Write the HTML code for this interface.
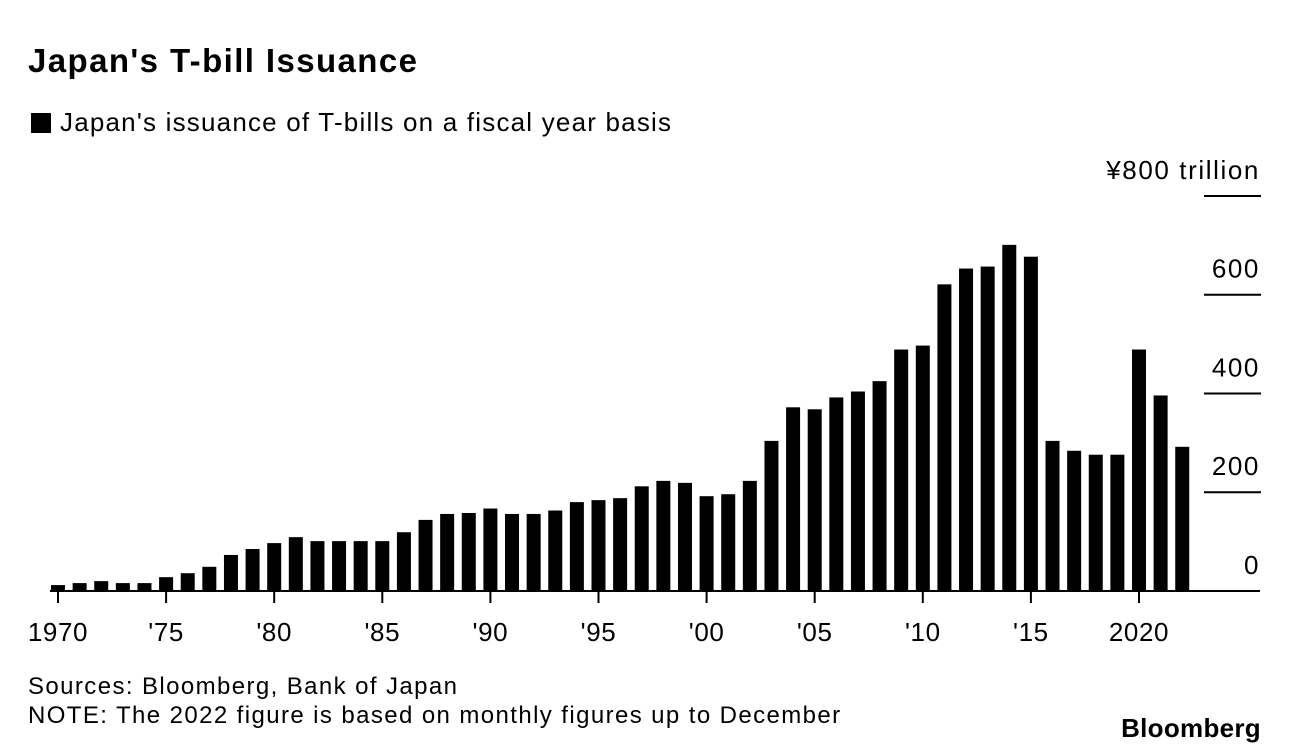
<!DOCTYPE html>
<html><head><meta charset="utf-8"><style>
body{margin:0;background:#fff;font-family:"Liberation Sans",sans-serif;color:#000}
#wrap{position:relative;width:1289px;height:756px;overflow:hidden}
.t{position:absolute;white-space:nowrap}
</style></head><body>
<div id="wrap">
<div class="t" style="left:28px;top:42px;font-size:33px;font-weight:bold;letter-spacing:1.4px">Japan's T-bill Issuance</div>
<div class="t" style="left:31px;top:107px;font-size:26px;letter-spacing:1.2px"><span style="display:inline-block;width:20px;height:20px;background:#000;vertical-align:-2px;margin-right:9px"></span>Japan's issuance of T-bills on a fiscal year basis</div>
<svg id="chart" width="1289" height="756" style="position:absolute;left:0;top:0"></svg>
<div class="t" style="left:28px;top:673px;font-size:24px;letter-spacing:1.4px">Sources: Bloomberg, Bank of Japan</div>
<div class="t" style="left:28px;top:702px;font-size:24px;letter-spacing:1.4px">NOTE: The 2022 figure is based on monthly figures up to December</div>
<div class="t" style="right:28px;top:713px;font-size:26px;font-weight:bold;letter-spacing:0.3px">Bloomberg</div>
</div>
<script>
const years=[1970,1971,1972,1973,1974,1975,1976,1977,1978,1979,1980,1981,1982,1983,1984,1985,1986,1987,1988,1989,1990,1991,1992,1993,1994,1995,1996,1997,1998,1999,2000,2001,2002,2003,2004,2005,2006,2007,2008,2009,2010,2011,2012,2013,2014,2015,2016,2017,2018,2019,2020,2021,2022];
const values=[12,16,20,16,16,28,36,49,73,85,97,109,101,101,101,101,119,144,156,158,167,156,156,163,180,184,188,212,223,219,192,196,223,304,372,368,392,404,425,489,497,621,653,657,701,677,304,284,276,276,489,396,292];
const yTicks=[0,200,400,600,800];
const yTickLabels=["0","200","400","600","¥800 trillion"];
const xTicks=[1970,1975,1980,1985,1990,1995,2000,2005,2010,2015,2020];
const xTickLabels=["1970","'75","'80","'85","'90","'95","'00","'05","'10","'15","2020"];
const svg=document.getElementById('chart');
const NS='http://www.w3.org/2000/svg';
function x(yr){return 58+(yr-1970)*21.62;}
function y(v){return 591-v*0.4938;}
function mk(tag,attrs){const e=document.createElementNS(NS,tag);for(const k in attrs)e.setAttribute(k,attrs[k]);svg.appendChild(e);return e;}
yTicks.forEach((t,i)=>{
  if(t>0){const g=mk('line',{x1:1204,x2:1261,y1:y(t),y2:y(t),stroke:'#000','stroke-width':2});
  
  }
  const l=mk('text',{x:1260,y:y(t)-17,'text-anchor':'end','font-size':26,'letter-spacing':1.6,'font-family':'Liberation Sans, sans-serif'});
  l.textContent=yTickLabels[i];
  
  
});
years.forEach((yr,i)=>{
  const r=mk('rect',{x:x(yr)-7,y:y(values[i]),width:14,height:591-y(values[i]),fill:'#000'});
  
  
});
const ax=mk('line',{x1:50,x2:1260,y1:591,y2:591,stroke:'#000','stroke-width':2});


xTicks.forEach((t,i)=>{
  const tk=mk('line',{x1:x(t),x2:x(t),y1:591,y2:603,stroke:'#000','stroke-width':2});
  
  
  const l=mk('text',{x:x(t),y:641,'text-anchor':'middle','font-size':26,'letter-spacing':0.6,'font-family':'Liberation Sans, sans-serif'});
  l.textContent=xTickLabels[i];
  
  
});
</script>
</body></html>
